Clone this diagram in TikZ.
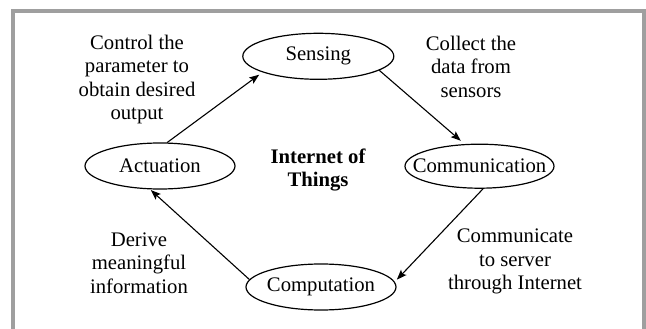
\documentclass[tikz,border=0pt]{standalone}
\usepackage{fontspec}
\setmainfont{Liberation Serif}
\usetikzlibrary{shapes.geometric,arrows.meta}
\begin{document}
\begin{tikzpicture}[x=1pt,y=-1pt,
  ell/.style={draw, ellipse, line width=1.2pt, minimum width=150pt, minimum height=46pt, inner sep=0pt},
  lbl/.style={font=\fontsize{20.7pt}{23.5pt}\selectfont, inner sep=0pt},
  txt/.style={lbl, align=center},
  conn/.style={line width=1.1pt, -{Stealth[length=10pt,width=7.5pt,inset=2pt]}}]
\useasboundingbox (0,0) rectangle (646,329);
\fill[white] (0,0) rectangle (646,329);
\draw[gray!75, line width=4pt] (13,11) rectangle (644,345);

\node[ell, minimum width=151pt] (sens) at (318.3,56.3) {};
\node[lbl] (senst) at (sens) {Sensing};
\node[ell, minimum width=149pt, minimum height=44pt] (comm) at (479.5,166.2) {};
\node[lbl] (commt) at (comm) {Communication};
\node[ell] (comp) at (321,287) {};
\node[lbl] (compt) at (comp) {Computation};
\node[ell] (act) at (160,166) {};
\node[lbl] (actt) at (act) {Actuation};

\node[txt] (ctrl) at (137,79.5) {Control the\\parameter to\\obtain desired\\output};
\node[txt] (coll) at (471,66.5) {Collect the\\data from\\sensors};
\node[txt] (deri) at (139,263) {Derive\\meaningful\\information};
\node[txt] (comtxt) at (515,261.8) {Communicate\\to server\\through Internet};
\node[txt, font=\fontsize{20.7pt}{23.5pt}\selectfont\bfseries] (iot) at (318,170) {Internet of\\Things};

\draw[conn, shorten >=4pt] (act.73) -- (sens.196);
\draw[conn, shorten >=5pt] (sens.347) -- (comm.124);
\draw[conn, shorten >=3pt] (comm.279) -- (comp.4);
\draw[conn, shorten >=1pt] (comp.174) -- (act.247);
\end{tikzpicture}
\end{document}
